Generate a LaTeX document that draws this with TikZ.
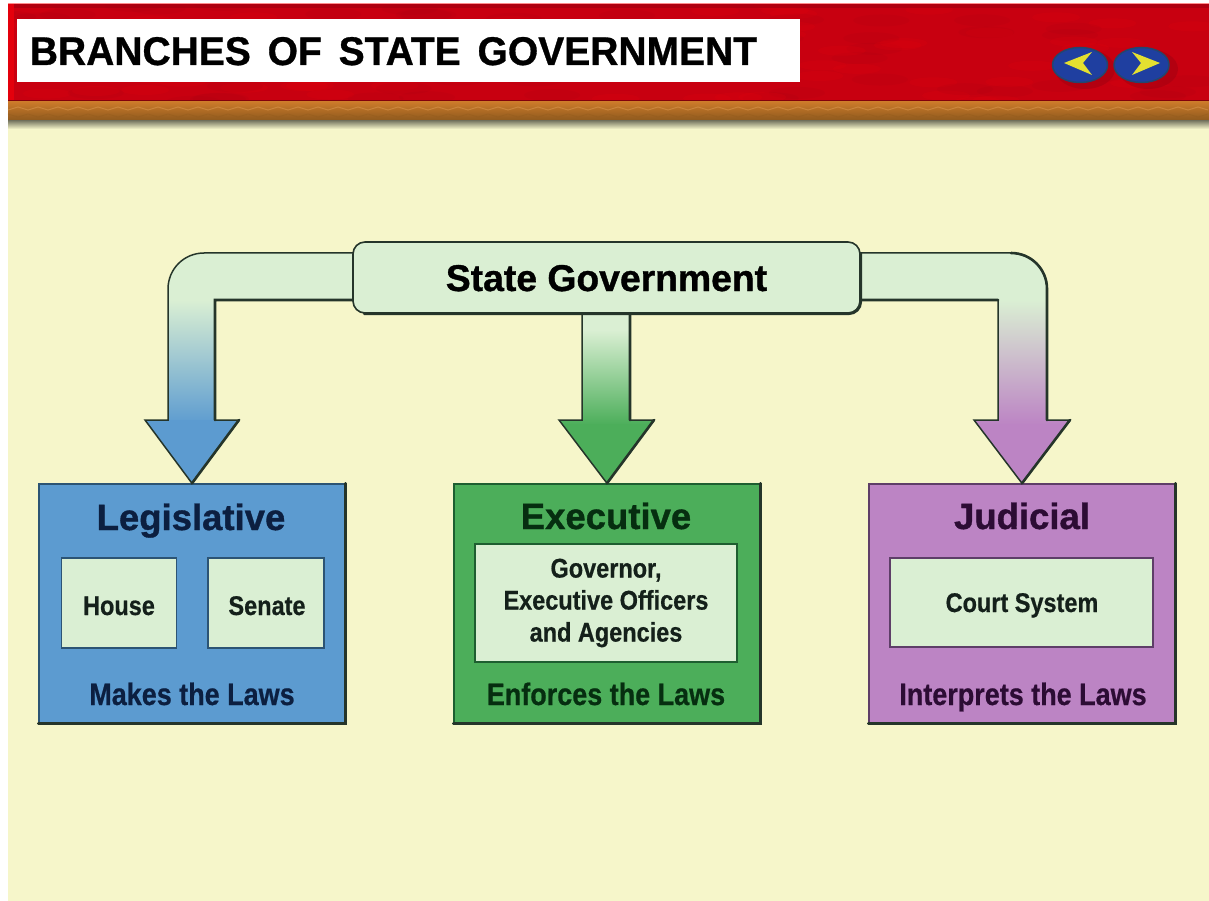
\documentclass[tikz,border=0pt]{standalone}
\usepackage{fontspec}
\usetikzlibrary{shapes.geometric}
\setmainfont{Liberation Sans}
\newfontfamily\condfont[FakeStretch=0.87,BoldFeatures={FakeBold=0.6,FakeStretch=0.87}]{Liberation Sans}
\newfontfamily\headfont[FakeStretch=0.975,BoldFeatures={FakeBold=0.8,FakeStretch=0.975}]{Liberation Sans}
\newfontfamily\heavyfont[BoldFeatures={FakeBold=1.0}]{Liberation Sans}
\definecolor{cream}{HTML}{F6F6CA}
\definecolor{pale}{HTML}{DAEFD3}
\definecolor{legblue}{HTML}{5C9BD0}
\definecolor{exegreen}{HTML}{4CAE5A}
\definecolor{judpurple}{HTML}{BC84C4}
\definecolor{barred}{HTML}{C80010}
\definecolor{barhot}{HTML}{E4000C}
\definecolor{bardark}{HTML}{A00010}
\definecolor{braidtop}{HTML}{CB7A2A}
\definecolor{braidbot}{HTML}{8F5A1E}
\definecolor{braidlight}{HTML}{DE9A50}
\definecolor{edge}{HTML}{25352A}
\definecolor{legedge}{HTML}{2C5474}
\definecolor{exeedge}{HTML}{1E5E30}
\definecolor{judedge}{HTML}{5E3E68}
\definecolor{legink}{HTML}{0C1F40}
\definecolor{exeink}{HTML}{062E10}
\definecolor{judink}{HTML}{2C0C34}
\definecolor{inner}{HTML}{14201A}
\definecolor{navblue}{HTML}{1F3FA0}
\definecolor{navedge}{HTML}{24466E}
\definecolor{navyellow}{HTML}{E4E030}
\tikzset{
  x=1pt,y=-1pt,
  branch/.style={line width=1.4pt,anchor=center,inner sep=0pt,minimum width=306pt,minimum height=239pt},
  subbox/.style={fill=pale,line width=1.8pt,anchor=center,inner sep=0pt},
  heavy/.style={draw=edge,line width=2.6pt,line cap=round},
  arrowline/.style={draw=edge,line width=1.5pt,line join=miter},
  title/.style={font=\heavyfont\fontsize{36.5}{40}\selectfont\bfseries,inner sep=0pt,anchor=base},
  duty/.style={font=\condfont\fontsize{31}{34}\selectfont\bfseries,inner sep=0pt,anchor=base},
  unit/.style={font=\condfont\fontsize{27}{32}\selectfont\bfseries,inner sep=0pt,text=inner,align=center},
  navbtn/.style={ellipse,draw=navedge,line width=1.5pt,fill=navblue,minimum width=55pt,minimum height=35pt,inner sep=0pt},
}
\begin{document}
\begin{tikzpicture}
\useasboundingbox (0,0) rectangle (1209,901);
% page
\fill[white] (0,0) rectangle (1209,901);
\fill[cream] (8,4) rectangle (1209,901);
% header
\shade[top color=black!55!cream,bottom color=cream] (8,120) rectangle (1209,129);
\fill[barred] (8,4) rectangle (1209,102);
\begin{scope}
\clip (8,4) rectangle (1209,102);
\pgfmathsetseed{7}
\foreach \i in {1,...,70} {
  \pgfmathsetmacro{\px}{8+rnd*1200}
  \pgfmathsetmacro{\py}{4+rnd*98}
  \fill[barhot,opacity=.2] (\px,\py) ellipse [x radius=24,y radius=5];
  \pgfmathsetmacro{\qx}{8+rnd*1200}
  \pgfmathsetmacro{\qy}{4+rnd*98}
  \fill[bardark,opacity=.12] (\qx,\qy) ellipse [x radius=28,y radius=6];
}
\end{scope}
\fill[bardark,opacity=.6] (8,4) rectangle (1209,8);
\fill[red!45!white] (8,3) rectangle (1209,4.5);
\fill[barhot] (8,4) rectangle (14,102);
\fill[black!35!barred] (8,100) rectangle (1209,103);
\shade[top color=braidtop,bottom color=braidbot] (8,102) rectangle (1209,120);
\draw[braidlight,line width=1pt,opacity=.5]
  (8,110) \foreach \i in {0,...,59} { -- ++(10,-3) -- ++(10,3) } ;
\draw[braidbot,line width=.8pt,opacity=.4]
  (8,114) \foreach \i in {0,...,59} { -- ++(10,3) -- ++(10,-3) } ;
\node[fill=white,minimum width=783pt,minimum height=63pt,inner sep=0pt] (banner) at (408.5,50.5) {};
\node[font=\headfont\fontsize{40}{44}\selectfont\bfseries,inner sep=0pt,anchor=base,text=black] (headline) at (393.5,65) {BRANCHES\hspace{6pt} OF\hspace{6pt} STATE\hspace{6pt} GOVERNMENT};
% nav buttons
\fill[bardark,opacity=.5] (1085,69) ellipse [x radius=30,y radius=20];
\fill[bardark,opacity=.5] (1148,69) ellipse [x radius=30,y radius=20];
\node[navbtn] (prevbtn) at (1080,65) {};
\node[navbtn] (nextbtn) at (1141.5,65) {};
\fill[navyellow] (1064,63) -- (1092,52) -- (1083,63) -- (1092,75) -- cycle;
\fill[navyellow] (1160,63) -- (1132,52) -- (1141,63) -- (1132,75) -- cycle;
% boxes (nodes first, so the arrows can refer to them)
\node[branch,draw=legedge,fill=legblue] (leg) at (192,603.5) {};
\node[branch,draw=exeedge,fill=exegreen] (exe) at (607,603.5) {};
\node[branch,draw=judedge,fill=judpurple] (jud) at (1022,603.5) {};
\coordinate (stateW) at (353,277);
\coordinate (stateE) at (860,277);
% left arrow
\begin{scope}
\clip (stateW |- 0,253) -- (204,253) .. controls (184,253) and (168,269) .. (168,289) -- (168,420) -- (145,420) -- (leg.north) -- (239,420) -- (215,420) -- (215,300) -- (stateW |- 0,300) -- cycle;
\fill[pale] (130,240) rectangle (360,305);
\shade[top color=pale,bottom color=legblue] (130,300) rectangle (250,425);
\fill[legblue] (130,420) rectangle (250,490);
\end{scope}
\draw[arrowline] (stateW |- 0,253) -- (204,253) .. controls (184,253) and (168,269) .. (168,289) -- (168,420) -- (145,420) -- (leg.north) -- (239,420) -- (215,420) -- (215,300) -- (stateW |- 0,300);
\draw[heavy] (leg.north) -- (239,420) (215,420) -- (215,300) -- (stateW |- 0,300);
% centre arrow
\begin{scope}
\clip (582,313) -- (582,420) -- (559,420) -- (exe.north) -- (654,420) -- (630,420) -- (630,313) -- cycle;
\shade[top color=pale,bottom color=exegreen] (550,330) rectangle (660,425);
\fill[pale] (550,313) rectangle (660,330);
\fill[exegreen] (550,424) rectangle (660,490);
\end{scope}
\draw[arrowline] (582,313) -- (582,420) -- (559,420) -- (exe.north) -- (654,420) -- (630,420) -- (630,313);
\draw[heavy] (exe.north) -- (654,420) (630,420) -- (630,313);
% right arrow
\begin{scope}
\clip (stateE |- 0,253) -- (1011,253) .. controls (1031,253) and (1047,269) .. (1047,289) -- (1047,420) -- (1070,420) -- (jud.north) -- (974,420) -- (998,420) -- (998,300) -- (stateE |- 0,300) -- cycle;
\fill[pale] (850,240) rectangle (1080,305);
\shade[top color=pale,bottom color=judpurple] (960,300) rectangle (1080,425);
\fill[judpurple] (960,424) rectangle (1080,490);
\end{scope}
\draw[arrowline] (stateE |- 0,253) -- (1011,253) .. controls (1031,253) and (1047,269) .. (1047,289) -- (1047,420) -- (1070,420) -- (jud.north) -- (974,420) -- (998,420) -- (998,300) -- (stateE |- 0,300);
\draw[heavy] (jud.north) -- (1070,420) (stateE |- 0,300) -- (998,300) (1011,253) .. controls (1031,253) and (1047,269) .. (1047,289) -- (1047,420);
% state government
\node[rectangle,rounded corners=12pt,fill=pale,draw=edge,line width=1.6pt,minimum width=507pt,minimum height=71pt,inner sep=0pt] (state) at (606.5,277.5) {};
\draw[heavy,rounded corners=12pt] ([xshift=12pt]state.south west) -- (state.south east) -- ([yshift=-12pt]state.north east);
\node[title,text=black,font=\heavyfont\fontsize{37.3}{40}\selectfont\bfseries] (stateT) at (606.5,291) {State Government};
% box shadows
\foreach \b in {leg,exe,jud}
  \draw[heavy] (\b.south west) -- (\b.south east) -- (\b.north east);
% legislative
\node[title,text=legink] (legT) at (191,530) {Legislative};
\node[subbox,draw=legedge,minimum width=115pt,minimum height=90pt] (house) at (119,603) {};
\node[subbox,draw=legedge,minimum width=116pt,minimum height=90pt] (senate) at (266,603) {};
\node[unit,anchor=base] (houseT) at (119,615) {House};
\node[unit,anchor=base] (senateT) at (267,615) {Senate};
\node[duty,text=legink] (legD) at (192,705) {Makes the Laws};
% executive
\node[title,text=exeink] (exeT) at (606,529) {Executive};
\node[subbox,draw=exeedge,minimum width=262pt,minimum height=118pt] (office) at (606,603) {};
\node[unit] (officeT) at (606,603) {Governor,\\Executive Officers\\and Agencies};
\node[duty,text=exeink] (exeD) at (606,705) {Enforces the Laws};
% judicial
\node[title,text=judink] (judT) at (1022,529) {Judicial};
\node[subbox,draw=judedge,minimum width=263pt,minimum height=89pt] (court) at (1021.5,602.5) {};
\node[unit,anchor=base] (courtT) at (1022,612) {Court System};
\node[duty,text=judink] (judD) at (1023,705) {Interprets the Laws};
\end{tikzpicture}
\end{document}
